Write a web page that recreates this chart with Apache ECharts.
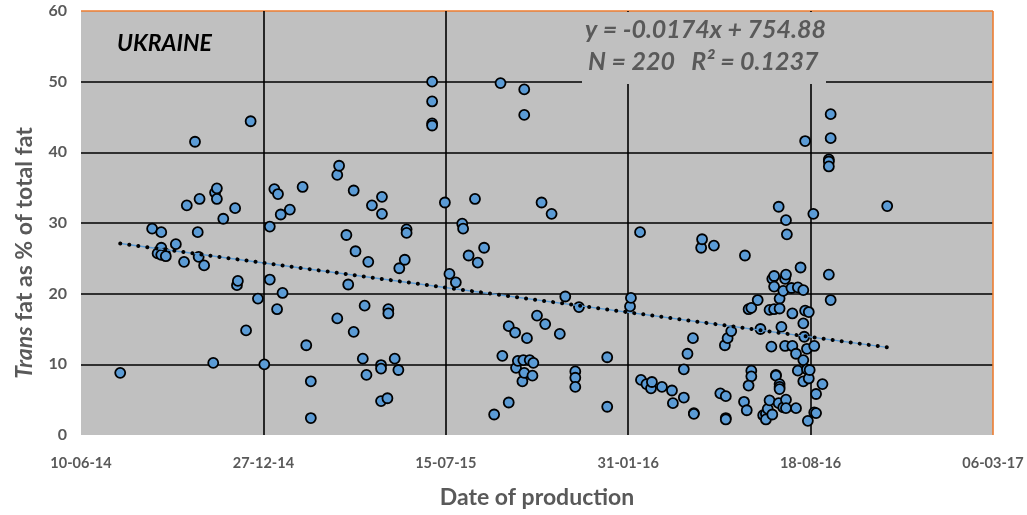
<!DOCTYPE html>
<html>
<head>
<meta charset="utf-8">
<script src="https://cdn.jsdelivr.net/npm/echarts@6/dist/echarts.min.js"></script>
<style>html,body{margin:0;padding:0;background:#fff;}#c{width:1027px;height:515px;}</style>
</head>
<body>
<div id="c"></div>
<script>
// Production dates as Excel serial day numbers
const prodDates = [
41843,41878,41888,41904,41888,41884,41892,41888,41893,41913,41916,41925,41928,41929,41930,41935,41945,41947,41949,41949,
41956,41969,41971,41972,41981,41986,41994,42001,42007,42007,42012,42015,42016,42019,42021,42029,42043,42047,42052,42052,
42081,42081,42083,42091,42093,42099,42099,42101,42109,42111,42113,42115,42119,42129,42129,42129,42130,42130,42136,42137,
42137,42144,42148,42149,42155,42157,42157,42185,42185,42185,42185,42199,42204,42211,42218,42219,42225,42232,42235,42242,
42253,42260,42262,42269,42269,42276,42277,42279,42284,42285,42286,42286,42286,42289,42292,42295,42296,42300,42305,42309,
42316,42325,42331,42342,42342,42342,42346,42377,42377,42402,42403,42413,42414,42420,42425,42426,42437,42448,42449,42461,
42461,42465,42471,42472,42472,42480,42481,42494,42501,42506,42507,42507,42507,42509,42513,42527,42528,42530,42532,42535,
42535,42535,42532,42542,42545,42548,42551,42551,42553,42555,42555,42557,42558,42558,42560,42560,42560,42562,42562,42565,
42565,42566,42566,42566,42566,42566,42568,42570,42570,42572,42572,42573,42573,42573,42573,42574,42579,42580,42580,42584,
42584,42586,42586,42589,42592,42592,42592,42592,42593,42594,42594,42596,42596,42597,42598,42598,42599,42603,42604,42604,
42606,42606,42613,42620,42620,42620,42620,42622,42622,42622,42684
];
const transFat = [
8.8,29.2,28.7,27.0,26.5,25.7,25.7,25.5,25.3,24.5,32.5,41.5,28.7,25.2,33.4,24.0,10.2,34.3,34.9,33.4,
30.6,32.1,21.2,21.8,14.8,44.4,19.3,10.0,29.5,22.0,34.8,17.8,34.1,31.2,20.1,31.9,35.1,12.7,2.4,7.6,
36.8,16.5,38.1,28.3,21.3,34.6,14.6,26.0,10.8,18.3,8.5,24.5,32.5,9.9,9.4,4.8,33.7,31.3,5.2,17.8,
17.2,10.8,9.2,23.6,24.8,29.1,28.6,50.0,47.2,44.1,43.8,32.9,22.8,21.6,29.9,29.2,25.4,33.4,24.4,26.5,
2.9,49.8,11.2,15.4,4.6,14.5,9.5,10.5,7.6,10.6,48.9,45.3,8.8,13.7,10.6,8.4,10.2,16.9,32.9,15.7,
31.3,14.3,19.6,9.0,8.1,6.8,18.1,11.0,4.0,18.2,19.4,28.7,7.8,7.2,6.6,7.5,6.8,6.3,4.5,5.3,
9.3,11.5,13.7,3.1,3.0,26.5,27.7,26.8,5.9,12.7,5.5,2.4,2.2,13.7,14.7,4.7,25.4,3.5,17.8,18.0,
9.1,8.3,7.0,19.1,15.0,2.8,3.0,2.2,3.7,17.7,4.9,12.5,22.1,2.9,22.5,21.0,17.8,8.5,8.4,32.3,
4.5,19.3,17.9,7.2,6.8,6.5,15.3,20.4,3.9,22.1,12.6,22.7,30.4,5.0,3.8,28.4,20.8,17.2,12.6,11.5,
3.8,20.9,9.1,23.7,20.5,15.8,10.6,7.6,13.9,17.6,41.6,12.2,9.3,2.0,17.4,8.0,9.2,31.3,12.6,3.2,
5.8,3.1,7.2,39.0,38.7,38.0,22.7,45.4,42.0,19.1,32.4
];
// Linear trend endpoints
const trendDates = [41843, 42684];
const trendValues = [27.1, 12.4];
// Axis tick labels
const xTickValues = [41800, 42000, 42200, 42400, 42600, 42800];
const xTickLabels = ['10-06-14', '27-12-14', '15-07-15', '31-01-16', '18-08-16', '06-03-17'];
const yTickLabels = ['0', '10', '20', '30', '40', '50', '60'];

const scatterData = prodDates.map((d, i) => [d, transFat[i]]);
const trendData = trendDates.map((d, i) => [d, trendValues[i]]);

const FONT = 'Lato';
const GRAY = '#595959';
const chart = echarts.init(document.getElementById('c'), null, {renderer: 'canvas'});
chart.setOption({
  animation: false,
  textStyle: {fontFamily: FONT},
  grid: {left: 81, right: 34, top: 11, bottom: 80, show: true, backgroundColor: '#c0c0c0', borderWidth: 0,
         containLabel: false, outerBoundsMode: 'none'},
  xAxis: {
    type: 'value', min: 41800, max: 42800, interval: 200,
    axisLine: {show: false}, axisTick: {show: false},
    splitLine: {show: true, lineStyle: {color: ['rgba(0,0,0,0)', '#000', '#000', '#000', '#000', '#ed7d31'], width: 1.6}},
    axisLabel: {
      margin: 21, color: GRAY, fontSize: 14.5, fontWeight: 'bold', fontFamily: FONT,
      formatter: v => { const k = xTickValues.indexOf(v); return k >= 0 ? xTickLabels[k] : ''; }
    },
    name: 'Date of production', nameLocation: 'middle', nameGap: 51,
    nameTextStyle: {color: GRAY, fontSize: 23, fontWeight: 'bold', fontFamily: FONT}
  },
  yAxis: {
    type: 'value', min: 0, max: 60, interval: 10,
    axisLine: {show: false}, axisTick: {show: false},
    splitLine: {show: true, lineStyle: {color: ['rgba(0,0,0,0)', '#000', '#000', '#000', '#000', '#000', '#ed7d31'], width: 1.6}},
    axisLabel: {
      margin: 14, color: GRAY, fontSize: 16, fontWeight: 'bold', fontFamily: FONT,
      formatter: v => yTickLabels[Math.round(v / 10)]
    },
    name: '{i|Trans} fat as % of total fat', nameLocation: 'middle', nameGap: 45, nameRotate: 90,
    nameTextStyle: {color: GRAY, fontSize: 23, fontWeight: 'bold', fontFamily: FONT, padding: [0, 60, 0, 0],
      rich: {i: {fontStyle: 'italic', color: GRAY, fontSize: 23, fontWeight: 'bold', fontFamily: FONT}}}
  },
  graphic: [
    {type: 'rect', left: 582, top: 12, shape: {width: 244, height: 72}, style: {fill: '#c0c0c0'}, z: 1},
    {type: 'text', left: 117, top: 32, style: {text: 'UKRAINE', font: 'italic bold 23px ' + FONT, fill: '#000'}, z: 10},
    {type: 'text', left: 585, top: 17, style: {text: 'y = -0.0174x + 754.88', font: 'italic bold 25px ' + FONT, fill: GRAY}, z: 10},
    {type: 'text', left: 588, top: 49, style: {text: 'N = 220   R² = 0.1237', font: 'italic bold 25px ' + FONT, fill: GRAY}, z: 10}
  ],
  series: [
    {
      type: 'scatter', data: scatterData, symbol: 'circle', symbolSize: 10, z: 3,
      itemStyle: {color: '#5b9bd5', borderColor: '#000', borderWidth: 1.8, opacity: 1}
    },
    {
      type: 'line', data: trendData, symbol: 'none', z: 4, silent: true,
      lineStyle: {color: '#5b9bd5', width: 1.5}
    },
    {
      type: 'line', data: trendData, symbol: 'none', z: 5, silent: true,
      lineStyle: {color: '#000', width: 4, type: [0.1, 9], cap: 'round'}
    }
  ]
});
</script>
</body>
</html>
